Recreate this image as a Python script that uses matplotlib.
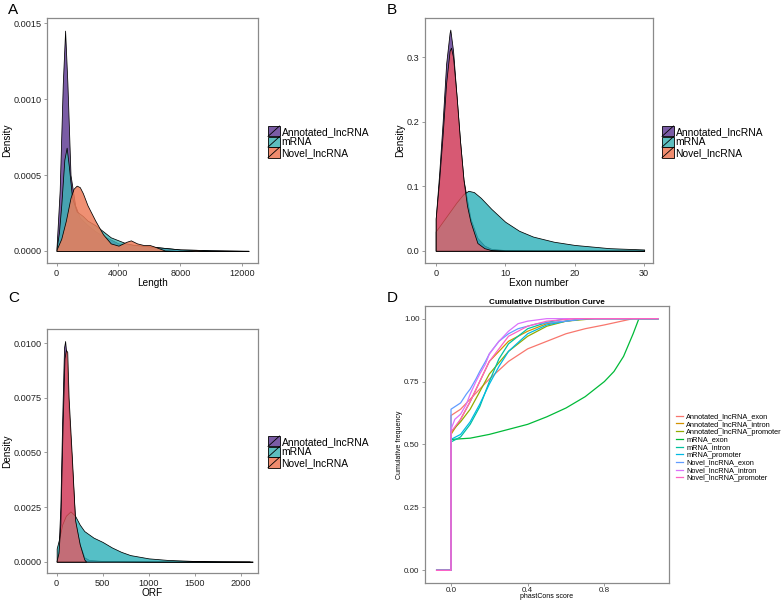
import numpy as np
import matplotlib
matplotlib.use("Agg")
import matplotlib.pyplot as plt
from matplotlib.patches import Rectangle, Patch
from matplotlib.lines import Line2D
from matplotlib.legend_handler import HandlerBase

plt.rcParams['font.family'] = ['Liberation Sans', 'DejaVu Sans']

# ---------------- DATA ----------------
groups = ["Annotated_lncRNA", "mRNA", "Novel_lncRNA"]

# Panel A : Length
len_annot_x = [0, 200, 400, 550, 700, 900, 1200, 1500, 2000, 2500, 3000, 4000, 5000, 6000, 8000, 10000, 12400]
len_annot_y = [0.00003, 0.0004, 0.0011, 0.00145, 0.0011, 0.0005, 0.0003, 0.00022, 0.00017, 0.00013, 0.0001,
               0.00005, 0.00004, 0.00003, 0.00001, 0.000005, 0.0]
len_mrna_x = [0, 150, 300, 500, 650, 800, 1000, 1300, 1700, 2000, 2500, 3000, 3500, 4000, 4500, 5000, 6000,
              7000, 8000, 9000, 10000, 12400]
len_mrna_y = [0.00002, 0.00012, 0.0003, 0.0006, 0.00068, 0.00055, 0.00035, 0.00026, 0.00023, 0.0002, 0.00017,
              0.00013, 0.00009, 0.00007, 0.00005, 0.00004, 0.00003, 0.00002, 0.00001, 0.000008, 0.000004, 0.000002]
len_novel_x = [0, 300, 600, 900, 1100, 1300, 1500, 1700, 2000, 2500, 3000, 3500, 4000, 4500, 4800, 5200, 5600,
               6000, 6300, 7000, 8000, 9000, 9500, 10000, 12400]
len_novel_y = [0.00001, 0.00008, 0.0002, 0.00035, 0.00041, 0.00043, 0.00042, 0.00038, 0.0003, 0.0002, 0.00011,
               0.00005, 0.000035, 0.00006, 0.00007, 0.00005, 0.00004, 0.00004, 0.00003, 0.000003, 0.0, 0.000006,
               0.000003, 0.0, 0.0]

# Panel B : Exon number
exon_annot_x = [0, 0.5, 1, 1.5, 2, 2.1, 2.5, 3, 3.5, 4, 5, 6, 7, 8, 10, 15, 20, 30]
exon_annot_y = [0.05, 0.12, 0.2, 0.29, 0.338, 0.343, 0.31, 0.24, 0.17, 0.11, 0.05, 0.02, 0.008, 0.003, 0.001,
                0.0003, 0.0001, 0.0]
exon_mrna_x = [0, 1, 2, 3, 4, 4.7, 5.5, 6.5, 8, 10, 12, 14, 17, 20, 25, 30]
exon_mrna_y = [0.03, 0.045, 0.06, 0.075, 0.088, 0.093, 0.091, 0.082, 0.065, 0.045, 0.031, 0.022, 0.014, 0.009,
               0.004, 0.002]
exon_novel_x = [0, 0.5, 1, 1.5, 2, 2.2, 2.5, 3, 3.5, 4, 4.5, 5, 6, 7, 8, 10, 30]
exon_novel_y = [0.05, 0.11, 0.18, 0.26, 0.31, 0.315, 0.3, 0.24, 0.17, 0.11, 0.07, 0.045, 0.012, 0.004, 0.001,
                0.0, 0.0]

# Panel C : ORF
orf_annot_x = [0, 20, 40, 60, 80, 92, 105, 130, 165, 200, 250, 300, 350, 500, 1000, 2100]
orf_annot_y = [0.0, 0.0005, 0.0025, 0.0065, 0.0098, 0.0101, 0.0095, 0.007, 0.0045, 0.0019, 0.0008, 0.0002,
               0.00008, 0.00003, 0.00001, 0.0]
orf_mrna_x = [0, 30, 60, 100, 150, 200, 250, 300, 400, 500, 600, 700, 800, 1000, 1200, 1500, 1800, 2130]
orf_mrna_y = [0.0006, 0.0011, 0.0017, 0.0021, 0.0023, 0.0021, 0.0017, 0.0014, 0.0011, 0.0009, 0.00065, 0.00045,
              0.0003, 0.00015, 0.00008, 0.00003, 0.00001, 0.0]
orf_novel_x = [0, 20, 40, 65, 85, 100, 115, 130, 165, 200, 250, 300, 320]
orf_novel_y = [0.00005, 0.0004, 0.0017, 0.0063, 0.0093, 0.0097, 0.0096, 0.0075, 0.0048, 0.0019, 0.0008,
               0.0001, 0.0]

# Panel D : cumulative distribution of phastCons score
cdf_names = ["Annotated_lncRNA_exon", "Annotated_lncRNA_intron", "Annotated_lncRNA_promoter",
             "mRNA_exon", "mRNA_intron", "mRNA_promoter",
             "Novel_lncRNA_exon", "Novel_lncRNA_intron", "Novel_lncRNA_promoter"]
score_min, score_max = -0.075, 1.08
cdf_x = [
    [0, 0.05, 0.1, 0.2, 0.3, 0.4, 0.5, 0.6, 0.7, 0.8, 0.95],
    [0, 0.05, 0.1, 0.15, 0.2, 0.3, 0.4, 0.5, 0.6, 0.7],
    [0, 0.05, 0.1, 0.15, 0.2, 0.3, 0.4, 0.5, 0.6, 0.75],
    [0, 0.1, 0.2, 0.3, 0.4, 0.5, 0.6, 0.7, 0.8, 0.85, 0.9, 0.95, 0.98],
    [0, 0.05, 0.1, 0.15, 0.2, 0.25, 0.3, 0.4, 0.5, 0.6],
    [0, 0.05, 0.1, 0.15, 0.2, 0.25, 0.3, 0.4, 0.5, 0.6, 0.7],
    [0, 0.02, 0.05, 0.08, 0.1, 0.13, 0.15, 0.18, 0.2, 0.25, 0.3, 0.35, 0.45, 0.6, 0.7],
    [0, 0.02, 0.05, 0.08, 0.1, 0.13, 0.15, 0.18, 0.2, 0.25, 0.3, 0.35, 0.4, 0.5],
    [0, 0.05, 0.1, 0.15, 0.2, 0.3, 0.4, 0.5, 0.65],
]
cdf_y = [
    [0.615, 0.64, 0.68, 0.76, 0.83, 0.88, 0.91, 0.94, 0.96, 0.975, 1.0],
    [0.54, 0.6, 0.67, 0.75, 0.83, 0.91, 0.95, 0.98, 0.99, 1.0],
    [0.55, 0.59, 0.64, 0.71, 0.78, 0.87, 0.93, 0.97, 0.99, 1.0],
    [0.52, 0.525, 0.54, 0.56, 0.58, 0.61, 0.645, 0.69, 0.75, 0.79, 0.85, 0.94, 1.0],
    [0.51, 0.53, 0.58, 0.65, 0.75, 0.84, 0.9, 0.96, 0.985, 1.0],
    [0.52, 0.54, 0.59, 0.66, 0.74, 0.81, 0.87, 0.94, 0.975, 0.99, 1.0],
    [0.64, 0.65, 0.665, 0.7, 0.72, 0.76, 0.79, 0.83, 0.86, 0.91, 0.94, 0.96, 0.98, 0.99, 1.0],
    [0.56, 0.6, 0.62, 0.66, 0.7, 0.75, 0.78, 0.82, 0.86, 0.91, 0.95, 0.98, 0.99, 1.0],
    [0.55, 0.6, 0.67, 0.75, 0.83, 0.93, 0.97, 0.99, 1.0],
]
cdf_colors = ["#F8766D", "#D39200", "#93AA00", "#00BA38", "#00C19F", "#00B9E3", "#619CFF", "#DB72FB", "#FF61C3"]

# ---------------- STYLE ----------------
W, H = 783, 600
key_colors = ["#7A5CA5", "#5DBEBE", "#F08C6E"]          # legend swatches
fills_A = [("#7A5CA5", 1.0), ("#3BB5B5", 0.8), ("#ED7D5A", 0.85)]
fills_BC = [("#7A5CA5", 1.0), ("#2AB0B8", 0.8), ("#FF595E", 0.7)]
GREY = "#8a8a8a"
TICK_FS = 6.6
LAB_FS = 7.2

fig = plt.figure(figsize=(W / 100, H / 100), dpi=100)


def ax_at(l, r, t, b):
    return fig.add_axes([l / W, 1 - b / H, (r - l) / W, (b - t) / H])


def style(ax, fs=TICK_FS, xpad=1.5):
    for s in ax.spines.values():
        s.set_color(GREY)
        s.set_linewidth(0.9)
    ax.tick_params(length=2.5, width=0.6, color=GREY, labelsize=fs, pad=1.5, labelcolor="#222222")
    ax.tick_params(axis="x", pad=xpad)


class KeyHandler(HandlerBase):
    def create_artists(self, legend, orig_handle, xdescent, ydescent, width, height, fontsize, trans):
        r = Rectangle((-xdescent, -ydescent), width, height, facecolor=orig_handle.get_facecolor(),
                      edgecolor="black", lw=0.6, transform=trans)
        ln = Line2D([-xdescent, -xdescent + width], [-ydescent, -ydescent + height], color="black", lw=0.6,
                    transform=trans)
        return [r, ln]


def density_panel(ax, xs, ys, fills, xlabel, xlim, ylim, xticks, yticks, yfmt, leg_xy):
    for (x, y), (col, a) in zip(zip(xs, ys), fills):
        c = matplotlib.colors.to_rgba(col, a)
        ax.fill_between(x, 0, y, facecolor=c, edgecolor="black", lw=0.55)
    ax.set_xlim(*xlim)
    ax.set_ylim(*ylim)
    ax.set_xticks(xticks)
    ax.set_yticks(yticks)
    ax.set_yticklabels([yfmt.format(v) for v in yticks])
    ax.set_xlabel(xlabel, fontsize=LAB_FS, labelpad=0.5)
    ax.set_ylabel("Density", fontsize=LAB_FS, labelpad=1)
    style(ax)
    handles = [Patch(facecolor=c) for c in key_colors]
    fig.legend(handles, groups, loc="center left", bbox_to_anchor=(leg_xy[0] / W, 1 - leg_xy[1] / H),
               frameon=False, fontsize=7.4, handlelength=1.12, handleheight=1.18, labelspacing=0.0,
               handletextpad=0.2, borderpad=0, borderaxespad=0, handler_map={Patch: KeyHandler()})


# Panel A
axA = ax_at(47, 258, 18, 263)
density_panel(axA, [len_annot_x, len_mrna_x, len_novel_x], [len_annot_y, len_mrna_y, len_novel_y], fills_A,
              "Length", (-620, 13020), (-0.000079, 0.001533), [0, 4000, 8000, 12000],
              [0, 0.0005, 0.001, 0.0015], "{:.4f}", (268, 142))

# Panel B
axB = ax_at(425, 653, 18, 263)
density_panel(axB, [exon_annot_x, exon_mrna_x, exon_novel_x], [exon_annot_y, exon_mrna_y, exon_novel_y], fills_BC,
              "Exon number", (-1.54, 31.27), (-0.019, 0.361), [0, 10, 20, 30],
              [0, 0.1, 0.2, 0.3], "{:.1f}", (662, 142))

# Panel C
axC = ax_at(47, 258, 329, 573)
density_panel(axC, [orf_annot_x, orf_mrna_x, orf_novel_x], [orf_annot_y, orf_mrna_y, orf_novel_y], fills_BC,
              "ORF", (-105, 2188), (-0.00052, 0.01065), [0, 500, 1000, 1500, 2000],
              [0, 0.0025, 0.005, 0.0075, 0.01], "{:.4f}", (268, 452))

# Panel D
axD = ax_at(425, 669, 306, 583)
for name, xs, ys, col in zip(cdf_names, cdf_x, cdf_y, cdf_colors):
    x = [score_min, xs[0]] + list(xs) + [score_max]
    y = [0.0, 0.0] + list(ys) + [ys[-1]]
    axD.plot(x, y, color=col, lw=0.9, label=name)
axD.set_xlim(-0.1356, 1.137)
axD.set_ylim(-0.0505, 1.0502)
axD.set_xticks([0.0, 0.4, 0.8])
axD.set_xticklabels(["0.0", "0.4", "0.8"])
axD.set_yticks([0, 0.25, 0.5, 0.75, 1.0])
axD.set_yticklabels(["0.00", "0.25", "0.50", "0.75", "1.00"])
style(axD, fs=5.8, xpad=0.5)
axD.set_xlabel("phastCons score", fontsize=5.0, labelpad=-0.5)
axD.set_ylabel("Cumulative frequency", fontsize=5.0, labelpad=0.5)
axD.set_title("Cumulative Distribution Curve", fontsize=5.8, fontweight="bold", pad=1.5)
fig.legend(*axD.get_legend_handles_labels(), loc="center left",
           bbox_to_anchor=(676 / W, 1 - 447.5 / H), frameon=False, fontsize=5.3, handlelength=1.0,
           labelspacing=0.08, handletextpad=0.4, borderpad=0, borderaxespad=0)

# Panel letters
for letter, (px, py) in zip("ABCD", [(8, 10), (387, 10), (8, 298), (387, 298)]):
    fig.text(px / W, 1 - py / H, letter, fontsize=11, va="center", ha="left")

fig.savefig("out.png", dpi=100)
